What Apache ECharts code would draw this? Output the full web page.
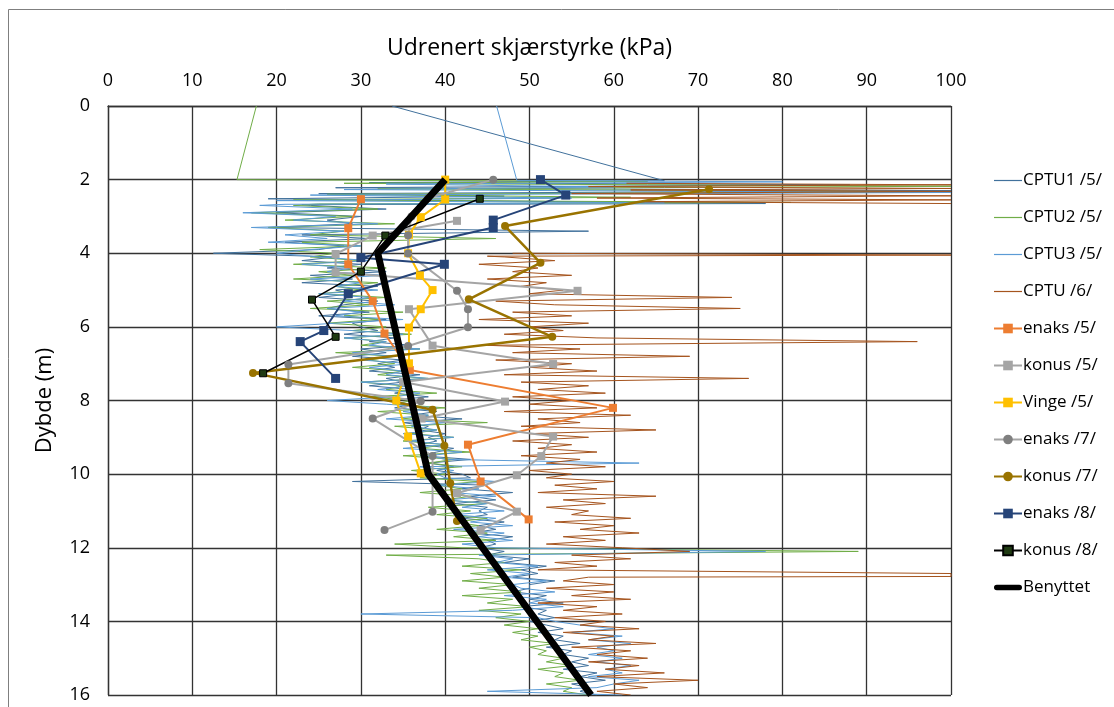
<!DOCTYPE html>
<html>
<head>
<meta charset="utf-8">
<script src="https://cdn.jsdelivr.net/npm/echarts@6/dist/echarts.min.js"></script>
<style>
html,body{margin:0;padding:0;background:#fff;}
#chart{width:1114px;height:707px;}
</style>
</head>
<body>
<div id="chart"></div>
<script>
// ---------- DATA ----------
const xTicks = [0,10,20,30,40,50,60,70,80,90,100];
const yTicks = [0,2,4,6,8,10,12,14,16];

// shared CPT sampling depths (m)
const depthGrid = [
 2.7,2.8,2.9,3.0,3.1,3.2,3.3,3.4,3.5,3.6,3.7,3.8,3.9,4.0,
 4.1,4.2,4.3,4.4,4.5,4.6,4.7,4.8,4.9,5.0,
 5.1,5.2,5.3,5.4,5.5,5.6,5.7,5.8,5.9,6.0,
 6.1,6.2,6.3,6.4,6.5,6.6,6.7,6.8,6.9,7.0,
 7.1,7.2,7.3,7.4,7.5,7.6,7.7,7.8,7.9,8.0,
 8.1,8.2,8.3,8.4,8.5,8.6,8.7,8.8,8.9,9.0,
 9.1,9.2,9.3,9.4,9.5,9.6,9.7,9.8,9.9,10.0,
 10.1,10.2,10.3,10.4,10.5,10.6,10.7,10.8,10.9,11.0,
 11.1,11.2,11.3,11.4,11.5,11.6,11.7,11.8,11.9,12.0,
 12.1,12.2,12.3,12.4,12.5,12.6,12.7,12.8,12.9,13.0,
 13.1,13.2,13.3,13.4,13.5,13.6,13.7,13.8,13.9,14.0,
 14.1,14.2,14.3,14.4,14.5,14.6,14.7,14.8,14.9,15.0,
 15.1,15.2,15.3,15.4,15.5,15.6,15.7,15.8,15.9,16.0];

// CPTU1 /5/  [kPa, depth] head + values on depthGrid
const cptu1Head = [[33.7,0],[66,2.03],[31,2.08],[88,2.14],[27,2.22],[100,2.3],[25,2.38],[47,2.45],[19,2.52],[78,2.65],[23,2.68]];
const cptu1Vals = [
 24,33,20,30,26,29,19,57,23,31,21,28,25,12.5,
 27,23,30,26,33,24,29,23,32,27,
 29,25,32,28,26,31,25,33,29,30,
 32,28,34,31,36,30,33,29,35,32,
 34,31,37,33,35,31,36,34,38,33,
 36,34,39,36,42,35,38,37,40,38,
 39,37,41,39,37,43,38,41,39,42,
 43,29,45,42,48,43,46,41,45,44,
 45,42,47,44,46,43,48,45,46,44,
 47,45,50,47,52,49,51,48,53,50,
 50,48,52,50,54,49,52,51,53,50,
 52,54,51,54,53,56,52,55,54,57,
 55,57,54,58,56,59,55,57,56,58];

// CPTU2 /5/
const cptu2Head = [[17.6,0],[15.3,2.0],[64,2.05],[28,2.1],[100,2.18],[32,2.25],[100,2.33],[26,2.4],[62,2.48],[22,2.55],[81,2.62],[25,2.66]];
const cptu2Vals = [
 22,32,17,29,21,34,19,28,24,46,23,30,18,27,
 24,30,22,33,25,29,22,32,27,30,
 25,33,26,31,24,35,28,32,26,33,
 29,36,28,33,30,37,27,34,31,34,
 29,35,32,38,30,35,33,39,31,36,
 34,40,32,38,35,45,34,39,36,41,
 35,40,37,43,35,41,38,42,36,40,
 37,44,39,42,37,43,40,45,38,43,
 39,45,41,44,39,45,41,46,34,42,
 89,33,44,47,42,49,43,47,42,48,
 44,49,42,48,45,50,44,49,46,50,
 47,51,48,51,49,53,50,52,51,54,
 52,55,51,54,53,56,52,55,54,57];

// CPTU3 /5/
const cptu3Head = [[46.1,0],[48.5,2.02],[80,2.06],[33,2.12],[60,2.2],[28,2.27],[100,2.35],[24,2.42],[55,2.5],[20,2.57],[66,2.63],[21,2.67]];
const cptu3Vals = [
 18,29,16,27,22,32,17,28,21,26,19,30,24,20,
 25,31,23,29,26,33,24,30,27,32,
 25,31,28,34,26,30,27,35,27,20,
 29,35,28,33,31,37,29,34,30,36,
 31,35,33,38,30,36,32,37,34,26,
 33,39,35,38,33,40,36,39,35,41,
 36,40,35,42,38,40,63,37,41,39,
 40,46,39,44,41,46,40,45,42,47,
 41,46,43,48,41,47,44,48,42,46,
 78,44,48,46,51,45,50,47,52,48,
 49,53,47,52,50,54,48,30,51,53,
 56,60,55,61,57,62,58,60,57,61,
 58,62,59,61,57,63,60,58,45,61];

// CPTU /6/  (no readings between 2.7 and 4.0 m -> gap)
const cptu6Head = [[61.5,2.1],[100,2.14],[57,2.19],[100,2.24],[62,2.28],[100,2.32],[55,2.38],[100,2.44],[58,2.5],[100,2.55],[63,2.6],[100,2.65],[null,3.3],[48,4.0],[100,4.05],[45,4.08],[100,12.78]];
const cptu6Vals = [
 null,null,null,null,null,null,null,null,null,null,null,null,null,null,
 47,53,44,51,48,55,45,52,49,54,
 50,74,46,53,75,48,55,44,57,50,
 54,47,58,96,45,56,48,69,46,55,
 50,58,47,76,49,57,51,59,48,55,
 50,58,47,62,51,56,49,65,50,57,
 48,55,51,58,49,56,52,59,50,55,
 52,60,53,58,51,65,54,59,52,57,
 55,62,53,60,56,63,54,59,52,61,
 69,55,62,53,58,51,100,57,54,60,
 52,60,55,62,51,58,54,61,53,59,
 56,63,54,60,57,65,55,62,58,64,
 57,63,59,66,58,70,60,64,58,62];

// lab / field tests [kPa, depth]
const enaks5 = [[30.0,2.53],[28.5,3.32],[28.5,4.3],[31.4,5.3],[32.8,6.18],[35.8,7.17],[59.9,8.2],[42.7,9.2],[44.2,10.2],[49.9,11.23]];
const konus5 = [[41.4,3.12],[31.4,3.52],[27.0,4.02],[27.0,4.52],[55.7,5.02],[35.7,5.52],[38.5,6.51],[52.8,7.01],[35.0,7.5],[47.1,8.03],[37.2,8.49],[52.8,8.98],[51.4,9.51],[48.5,10.03],[41.4,10.52],[48.5,11.02],[44.2,11.52]];
const vinge5 = [[40.0,2.0],[40.0,2.54],[37.1,3.02],[35.7,3.5],[35.6,4.0],[37.0,4.6],[38.5,5.0],[37.1,5.52],[35.7,6.02],[35.7,6.99],[34.2,8.0],[35.6,8.98],[37.1,9.98]];
const enaks7 = [[45.7,2.0],[38.0,2.5],[36.0,3.0],[35.6,3.51],[35.6,4.01],[41.4,5.02],[42.7,5.52],[42.7,6.01],[35.6,6.52],[21.4,7.02],[21.4,7.53],[37.1,8.02],[31.4,8.49],[38.5,9.51],[38.5,11.02],[32.8,11.52]];
const konus7 = [[71.3,2.26],[47.1,3.26],[51.3,4.26],[42.8,5.25],[52.7,6.27],[17.2,7.25],[38.5,8.25],[39.9,9.23],[40.6,10.25],[41.4,11.27]];
const enaks8 = [[51.3,2.0],[54.3,2.42],[45.7,3.1],[45.7,3.3],[30.0,4.12],[39.9,4.3],[28.5,5.1],[25.6,6.1],[22.8,6.4],[27.0,7.4]];
const konus8 = [[44.1,2.52],[32.9,3.52],[30.0,4.5],[24.2,5.26],[27.0,6.27],[18.4,7.26]];
const benyttet = [[40,2],[32,4],[38,10],[57.3,16]];

// ---------- BUILD ----------
function profile(head, vals){
  const pts = head.slice();
  vals.forEach((v,i)=>{ if(v!==null) pts.push([v, depthGrid[i]]); });
  pts.sort((a,b)=>a[1]-b[1]);
  return pts;
}

const FONT = '"Open Sans", "Noto Sans", sans-serif';
const THIN_ICON = 'path://M0,0H28V1.2H0Z';
const THICK_ICON = 'path://M3,0H27A3,3 0 0 1 27,6H3A3,3 0 0 1 3,0Z';

function cptSeries(name, color, data){
  return {name, type:'line', data, symbol:'none', showSymbol:false,
    lineStyle:{color, width:1}, itemStyle:{color}, z:2, silent:true};
}
function markSeries(name, lineColor, markColor, symbol, data, width, border, size){
  return {name, type:'line', data, symbol, symbolSize:size||8, showSymbol:true,
    lineStyle:{color:lineColor, width:width||2},
    itemStyle:Object.assign({color:markColor}, border||{}), z:3};
}

const chart = echarts.init(document.getElementById('chart'));
chart.setOption({
  animation:false,
  backgroundColor:'#fff',
  textStyle:{fontFamily:FONT},
  graphic:[{type:'rect', shape:{x:8.5,y:9.5,width:1120,height:720},
    style:{fill:'none', stroke:'#7f7f7f', lineWidth:1}, silent:true, z:-1}],
  grid:{left:108, right:163, top:106, bottom:12, containLabel:false},
  legend:{
    orient:'vertical', left:988, top:167, itemWidth:28, itemHeight:12, itemGap:20,
    textStyle:{fontFamily:FONT, fontSize:17, color:'#000', padding:[0,0,0,-4]},
    data:[
      {name:'CPTU1 /5/', icon:THIN_ICON},
      {name:'CPTU2 /5/', icon:THIN_ICON},
      {name:'CPTU3 /5/', icon:THIN_ICON},
      {name:'CPTU /6/', icon:THIN_ICON},
      'enaks /5/','konus /5/','Vinge /5/','enaks /7/','konus /7/','enaks /8/','konus /8/',
      {name:'Benyttet', icon:THICK_ICON}
    ]
  },
  xAxis:{type:'value', position:'top', min:0, max:100, interval:10,
    name:'Udrenert skjærstyrke (kPa)', nameLocation:'middle', nameGap:46,
    nameTextStyle:{fontFamily:FONT, fontSize:23, color:'#000'},
    axisLine:{show:true, lineStyle:{color:'#333', width:1.3}},
    axisTick:{show:false},
    axisLabel:{fontFamily:FONT, fontSize:18, color:'#000', margin:16},
    splitLine:{show:true, lineStyle:{color:'#333', width:1.3}}},
  yAxis:{type:'value', inverse:true, min:0, max:16, interval:2,
    name:'Dybde (m)', nameLocation:'middle', nameGap:52, nameRotate:90,
    nameTextStyle:{fontFamily:FONT, fontSize:22, color:'#000'},
    axisLine:{show:true, lineStyle:{color:'#333', width:1.3}},
    axisTick:{show:false},
    axisLabel:{fontFamily:FONT, fontSize:18, color:'#000', margin:18},
    splitLine:{show:true, lineStyle:{color:'#333', width:1.3}}},
  series:[
    cptSeries('CPTU1 /5/', '#41719C', profile(cptu1Head, cptu1Vals)),
    cptSeries('CPTU2 /5/', '#70AD47', profile(cptu2Head, cptu2Vals)),
    cptSeries('CPTU3 /5/', '#5B9BD5', profile(cptu3Head, cptu3Vals)),
    cptSeries('CPTU /6/', '#A5541E', profile(cptu6Head, cptu6Vals)),
    markSeries('enaks /5/', '#ED7D31', '#ED7D31', 'rect', enaks5),
    markSeries('konus /5/', '#A5A5A5', '#A5A5A5', 'rect', konus5),
    markSeries('Vinge /5/', '#FFC000', '#FFC000', 'rect', vinge5),
    markSeries('enaks /7/', '#A5A5A5', '#7F7F7F', 'circle', enaks7),
    markSeries('konus /7/', '#997300', '#997300', 'circle', konus7, 2.5),
    markSeries('enaks /8/', '#264478', '#264478', 'rect', enaks8, 2, null, 9),
    markSeries('konus /8/', '#000000', '#1F3A12', 'rect', konus8, 1.5, {borderColor:'#000', borderWidth:1}, 7),
    {name:'Benyttet', type:'line', data:benyttet, symbol:'none', showSymbol:false,
      lineStyle:{color:'#000', width:7}, itemStyle:{color:'#000'}, z:4}
  ]
});
</script>
</body>
</html>
